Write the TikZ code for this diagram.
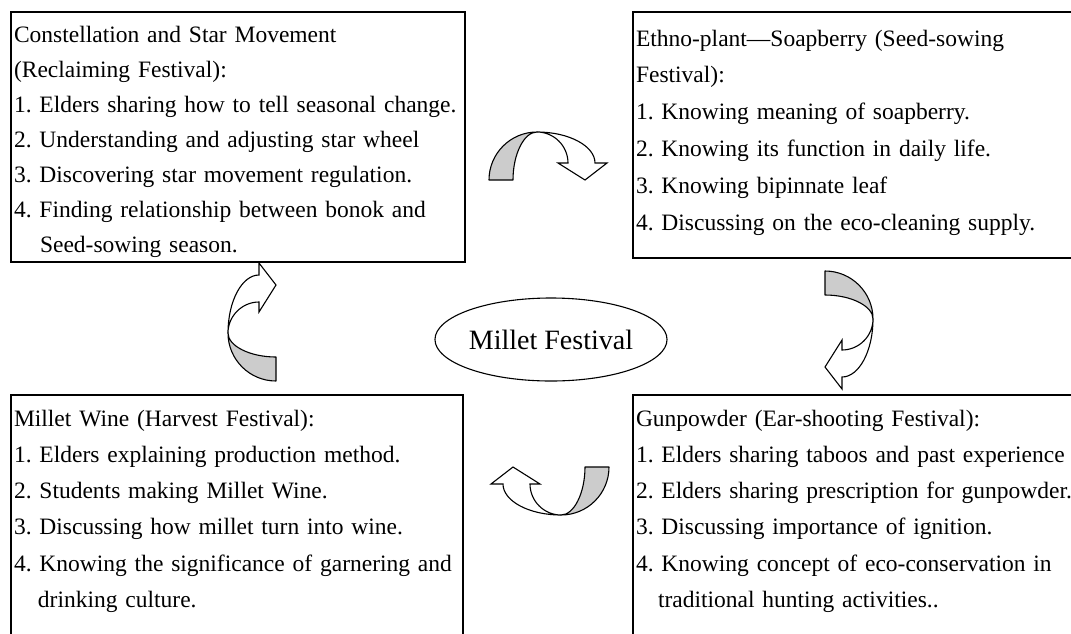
\documentclass[tikz,border=0pt]{standalone}
\usepackage{fontspec}
\setmainfont{Liberation Serif}
\usetikzlibrary{shapes.geometric}
\definecolor{ribbongray}{RGB}{204,204,204}
\tikzset{
  festbox/.style={draw, line width=1.4pt, anchor=base west, align=left,
    inner xsep=3pt, inner ysep=0pt, outer sep=0pt},
  turnarrow/.pic={
    \filldraw[fill=ribbongray, line width=1.1pt, line join=round]
      (-59,24) .. controls (-59,-2.5) and (-37.5,-24) .. (-11,-24)
      .. controls (-24,-24) and (-35,-2) .. (-35,24) -- cycle;
    \filldraw[fill=white, line width=1.1pt]
      (-11,-24) .. controls (21,-24) and (47,-10) .. (47,7)
      -- (59,7) -- (37,24) -- (10,7) -- (20,7)
      .. controls (20,-10) and (6,-24) .. (-11,-24) -- cycle;
  }
}
\frenchspacing
\begin{document}
\begin{tikzpicture}[x=1pt, y=-1pt]
  \clip (0,0) rectangle (1071,633);
  % festival boxes
  \node[festbox, text width=448pt, text height=30pt, text depth=220pt,
    font=\fontsize{23.5}{35}\selectfont] (reclaim) at (11,42)
    {Constellation and Star Movement\\
     (Reclaiming Festival):\\
     1. Elders sharing how to tell seasonal change.\\
     2. Understanding and adjusting star wheel\\
     3. Discovering star movement regulation.\\
     4. Finding relationship between bonok and\\
     \hspace*{26pt}Seed-sowing season.};
  \node[festbox, text width=451pt, text height=34pt, text depth=212pt,
    font=\fontsize{23.5}{36.8}\selectfont] (sowing) at (633,46)
    {Ethno-plant—Soapberry (Seed-sowing\\
     Festival):\\
     1. Knowing meaning of soapberry.\\
     2. Knowing its function in daily life.\\
     3. Knowing bipinnate leaf\\
     4. Discussing on the eco-cleaning supply.};
  \node[festbox, text width=446pt, text height=31pt, text depth=250pt,
    font=\fontsize{23.5}{36.3}\selectfont] (harvest) at (11,426)
    {Millet Wine (Harvest Festival):\\
     1. Elders explaining production method.\\
     2. Students making Millet Wine.\\
     3. Discussing how millet turn into wine.\\
     4. Knowing the significance of garnering and\\
     \hspace*{24pt}drinking culture.};
  \node[festbox, text width=451pt, text height=31pt, text depth=250pt,
    font=\fontsize{23.5}{36.3}\selectfont] (earshoot) at (633,426)
    {Gunpowder (Ear-shooting Festival):\\
     1. Elders sharing taboos and past experience\\
     2. Elders sharing prescription for gunpowder.\\
     3. Discussing importance of ignition.\\
     4. Knowing concept of eco-conservation in\\
     \hspace*{22pt}traditional hunting activities..};
  % centre
  \node[draw, ellipse, line width=1.1pt, minimum width=218pt, minimum height=83pt,
    inner sep=0pt, font=\fontsize{28}{28}\selectfont] (millet) at (551,339.5)
    {Millet Festival};
  % turning arrows
  \pic at (548,156) {turnarrow};
  \pic[rotate=-90] at (849,330) {turnarrow};
  \pic[rotate=180] at (550,491) {turnarrow};
  \pic[rotate=90] at (252,322) {turnarrow};
\end{tikzpicture}
\end{document}
